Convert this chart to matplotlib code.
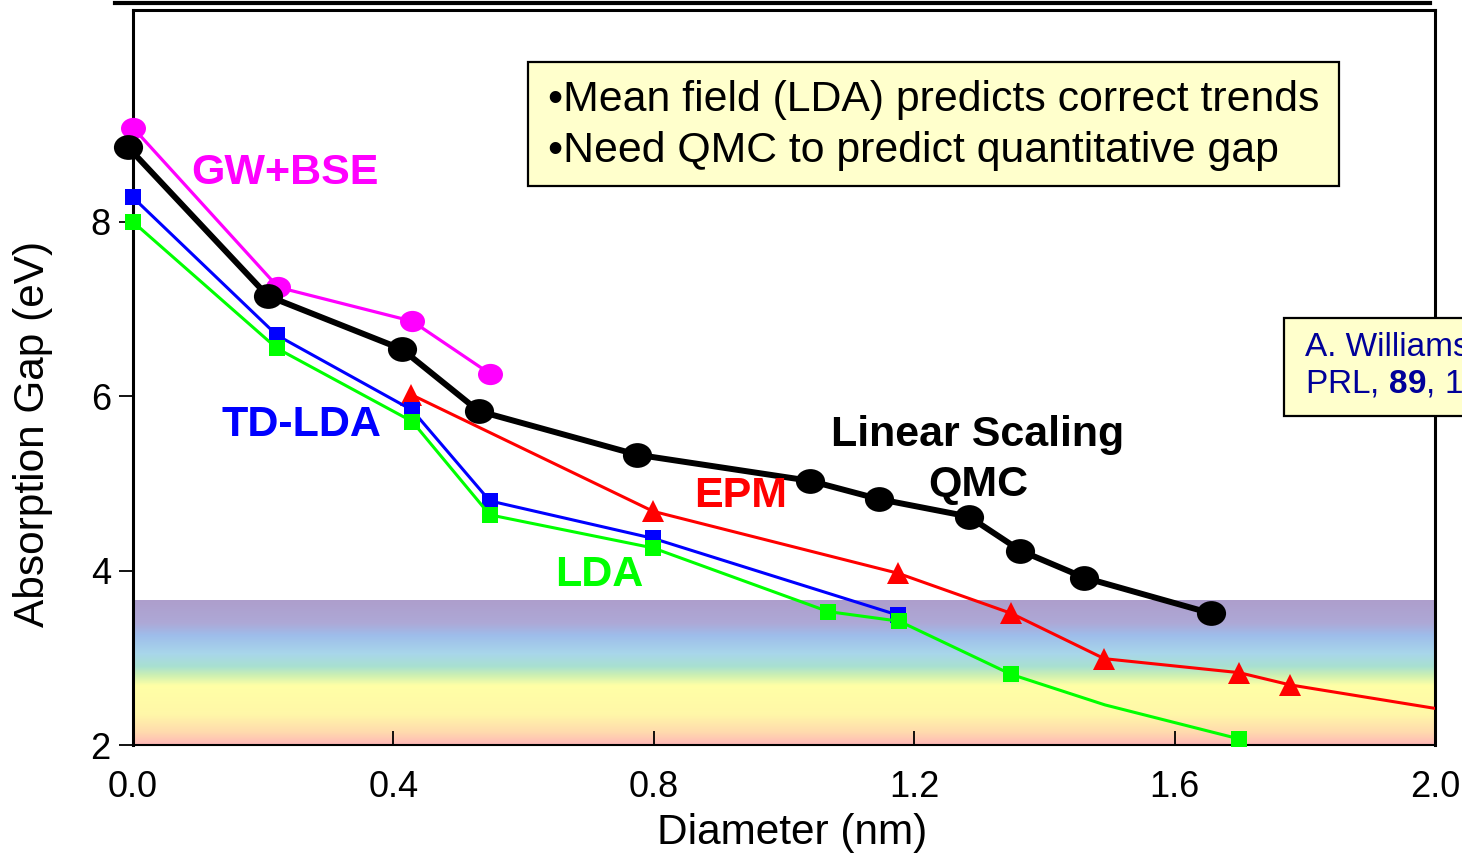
"""Absorption gap vs nanocrystal diameter: QMC, GW+BSE, TD-LDA, LDA, EPM."""

import matplotlib
matplotlib.use("Agg")
import matplotlib.pyplot as plt
from matplotlib.colors import LinearSegmentedColormap
from matplotlib.lines import Line2D
from matplotlib.patches import Rectangle
from matplotlib.path import Path
import numpy as np

plt.rcParams["font.family"] = ["Liberation Sans", "DejaVu Sans"]
plt.rcParams["mathtext.fontset"] = "custom"
plt.rcParams["mathtext.rm"] = "Liberation Sans"
plt.rcParams["mathtext.bf"] = "Liberation Sans:bold"

# ---- data ------------------------------------------------------------------
qmc_x = [-0.008, 0.207, 0.413, 0.531, 0.774, 1.040, 1.146, 1.284, 1.363, 1.461, 1.656]
qmc_y = [8.86, 7.15, 6.54, 5.83, 5.33, 5.03, 4.82, 4.62, 4.23, 3.92, 3.51]

gw_x = [0.0, 0.223, 0.429, 0.548]
gw_y = [9.08, 7.25, 6.86, 6.26]

tdlda_x = [0.0, 0.221, 0.429, 0.548, 0.799, 1.175]
tdlda_y = [8.28, 6.70, 5.84, 4.80, 4.37, 3.49]

lda_x = [0.0, 0.221, 0.429, 0.548, 0.799, 1.068, 1.177, 1.349, 1.493, 1.699]
lda_y = [8.00, 6.55, 5.71, 4.64, 4.26, 3.53, 3.42, 2.81, 2.46, 2.07]
lda_marked = [0, 1, 2, 3, 4, 5, 6, 7, 9]

epm_x = [0.427, 0.799, 1.175, 1.349, 1.492, 1.699, 1.777, 2.0]
epm_y = [6.02, 4.68, 3.97, 3.51, 2.99, 2.83, 2.69, 2.42]
epm_marked = [0, 1, 2, 3, 4, 5, 6]

x_ticks = [0.0, 0.4, 0.8, 1.2, 1.6, 2.0]
y_ticks = [2, 4, 6, 8]

# visible-light band behind the low-gap region
band_top = 3.66
band_stops = [
    (2.00, (1.00, 0.72, 0.72)),
    (2.15, (1.00, 0.86, 0.68)),
    (2.35, (1.00, 0.97, 0.66)),
    (2.68, (1.00, 1.00, 0.65)),
    (2.80, (0.80, 0.94, 0.70)),
    (2.90, (0.66, 0.88, 0.82)),
    (3.05, (0.66, 0.84, 0.92)),
    (3.26, (0.62, 0.74, 0.92)),
    (3.40, (0.68, 0.66, 0.84)),
    (3.66, (0.68, 0.62, 0.80)),
]

MAGENTA = (1.0, 0.0, 1.0)
BLUE = (0.0, 0.0, 1.0)
GREEN = (0.0, 1.0, 0.0)
RED = (1.0, 0.0, 0.0)
BOX_FACE = (1.0, 1.0, 0.8)
W, H = 1462, 855

# slightly flattened circle, like the original slide's markers
circ = Path.unit_circle()
ellipse = Path(circ.vertices * np.array([1.0, 0.85]), circ.codes)

fig = plt.figure(figsize=(W / 100, H / 100), dpi=100)
ax = fig.add_axes([133 / W, 1 - 745 / H, 1302 / W, 735 / H])

ax.set_xlim(0.0, 2.0)
ax.set_ylim(2.0, 10.43)

# ---- rainbow band ---------------------------------------------------------
lo, hi = band_stops[0][0], band_stops[-1][0]
cmap = LinearSegmentedColormap.from_list(
    "band", [((v - lo) / (hi - lo), c) for v, c in band_stops])
grad = np.linspace(0, 1, 256).reshape(-1, 1)
ax.imshow(grad, cmap=cmap, origin="lower", aspect="auto",
          extent=[0.0, 2.0, 2.0, band_top], zorder=0, interpolation="bilinear")

# ---- series ----------------------------------------------------------------
ax.plot(gw_x, gw_y, "-", marker=ellipse, color=MAGENTA, lw=2.3, ms=18,
        zorder=3, markeredgewidth=0, clip_on=False)
ax.plot(epm_x, epm_y, "-^", color=RED, lw=2.2, ms=16, zorder=3,
        markevery=epm_marked, markeredgewidth=0)
ax.plot(tdlda_x, tdlda_y, "-s", color=BLUE, lw=2.2, ms=11, zorder=4,
        markeredgewidth=0, clip_on=False)
ax.plot(lda_x, lda_y, "-s", color=GREEN, lw=2.2, ms=11, zorder=4,
        markevery=lda_marked, markeredgewidth=0, clip_on=False)
ax.plot(qmc_x, qmc_y, "-", marker=ellipse, color="black", lw=4.3, ms=21,
        zorder=5, markeredgewidth=0, clip_on=False)

# ---- series labels ---------------------------------------------------------
lab = dict(fontsize=31, fontweight="bold", ha="center", va="center", zorder=6)
ax.text(0.233, 8.56, "GW+BSE", color=MAGENTA, **lab)
ax.text(0.258, 5.67, "TD-LDA", color=BLUE, **lab)
ax.text(0.716, 3.95, "LDA", color=GREEN, **lab)
ax.text(0.934, 4.86, "EPM", color=RED, **lab)
ax.text(1.298, 5.56, "Linear Scaling", color="black", **lab)
ax.text(1.298, 4.98, "QMC", color="black", **lab)

# ---- axes styling ----------------------------------------------------------
ax.set_xticks(x_ticks)
ax.set_xticklabels([f"{v:.1f}" for v in x_ticks])
ax.set_yticks(y_ticks)
ax.tick_params(axis="x", direction="in", length=10, width=1.3,
               labelsize=26, pad=18)
ax.tick_params(axis="y", direction="out", length=10, width=1.3,
               labelsize=26, pad=6)
for s in ax.spines.values():
    s.set_linewidth(2.2)
ax.spines["bottom"].set_linewidth(1.5)
ax.set_xlabel("Diameter (nm)", fontsize=30.5)
ax.set_ylabel("Absorption Gap (eV)", fontsize=30.5)
ax.xaxis.set_label_coords((792 - 133) / 1302, -(833 - 745) / 735)
ax.yaxis.set_label_coords(-(133 - 33) / 1302, (745 - 434) / 735)
ax.xaxis.label.set_va("center")
ax.yaxis.label.set_va("center")

# ---- slide decorations -------------------------------------------------------
fig.add_artist(Line2D([115 / W, 1430 / W], [1 - 3 / H, 1 - 3 / H],
                      color="black", lw=3.0))

fig.add_artist(Rectangle((528 / W, 1 - 186 / H), (1339 - 528) / W, 124 / H,
                         transform=fig.transFigure, facecolor=BOX_FACE,
                         edgecolor="black", lw=1.6, zorder=9))
fig.text(548 / W, 1 - 100 / H, "\u2022Mean field (LDA) predicts correct trends",
         fontsize=30.8, ha="left", va="center", zorder=10)
fig.text(548 / W, 1 - 151 / H, "\u2022Need QMC to predict quantitative gap",
         fontsize=30.8, ha="left", va="center", zorder=10)

# citation box, cut off by the slide's right edge as in the original
fig.add_artist(Rectangle((1284 / W, 1 - 416 / H), 400 / W, 98 / H,
                         transform=fig.transFigure, facecolor=BOX_FACE,
                         edgecolor="black", lw=1.6, zorder=9))
ref_col = (0.0, 0.0, 0.6)
fig.text(1305 / W, 1 - 348 / H, "A. Williamson et al.",
         fontsize=24, ha="left", va="center", color=ref_col, zorder=10)
fig.text(1305 / W, 1 - 385 / H, "PRL, $\\mathbf{89}$, 196803 (2002)",
         fontsize=24, ha="left", va="center", color=ref_col, zorder=10)

fig.savefig("out.png", dpi=100)
